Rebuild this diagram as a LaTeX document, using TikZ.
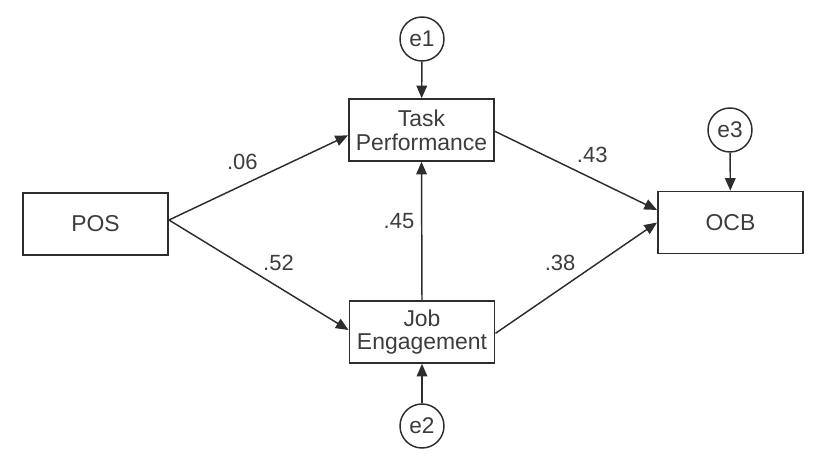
\documentclass[tikz,border=0pt]{standalone}
\usepackage{fontspec}
\setmainfont{Liberation Sans}
\usetikzlibrary{arrows.meta, positioning}
\definecolor{inkgray}{RGB}{45,45,45}
\definecolor{textgray}{RGB}{60,60,60}

\begin{document}
\begin{tikzpicture}[
  x=0.75pt, y=-0.75pt,
  every node/.style={font=\fontsize{16.5}{18}\selectfont, text=textgray},
  varbox/.style={draw=inkgray, line width=1.2pt, rectangle, align=center,
                 minimum width=109pt, minimum height=46.5pt, inner sep=1pt,
                 font=\fontsize{17.2}{17.8}\selectfont},
  errnode/.style={draw=inkgray, line width=1.1pt, circle, minimum size=33pt,
                  inner sep=0pt, font=\fontsize{17}{18}\selectfont},
  lbl/.style={inner sep=1pt},
  edge/.style={draw=inkgray, line width=1.1pt, -{Triangle[length=9.5pt, width=8pt]}}
]
\useasboundingbox (0,0) rectangle (815,463);

%--- Observed variables ---
\node[varbox] (pos)  at (95.5, 224)  {POS};
\node[varbox] (task) at (421.5, 130) {Task\\Performance};
\node[varbox] (job)  at (422, 332)   {Job\\Engagement};
\node[varbox] (ocb)  at (730.5, 222.5) {OCB};

%--- Error terms ---
\node[errnode] (e1) at (422, 39)  {e1};
\node[errnode] (e2) at (422, 426) {e2};
\node[errnode] (e3) at (730, 130) {e3};

%--- Paths ---
\draw[edge] ([yshift=3pt]pos.east) -- node[lbl, pos=0.41, above=10pt] {.06} ([yshift=-4pt]task.west);
\draw[edge] ([yshift=3pt]pos.east) -- node[lbl, pos=0.61, above=11pt] {.52} ([yshift=1.5pt]job.west);
\draw[edge] (job.north) -- node[lbl, pos=0.57, left=4pt] {.45} (task.south);
\draw[edge] ([yshift=-1pt]task.east) -- node[lbl, pos=0.6, above=10pt] {.43} ([yshift=9.4pt]ocb.west);
\draw[edge] ([yshift=-1pt]job.east) -- node[lbl, pos=0.4, above=12pt] {.38} (ocb.west);

%--- Residuals ---
\draw[edge] (e1) -- (task);
\draw[edge] (e2) -- (job);
\draw[edge] (e3) -- (ocb);

\end{tikzpicture}
\end{document}
